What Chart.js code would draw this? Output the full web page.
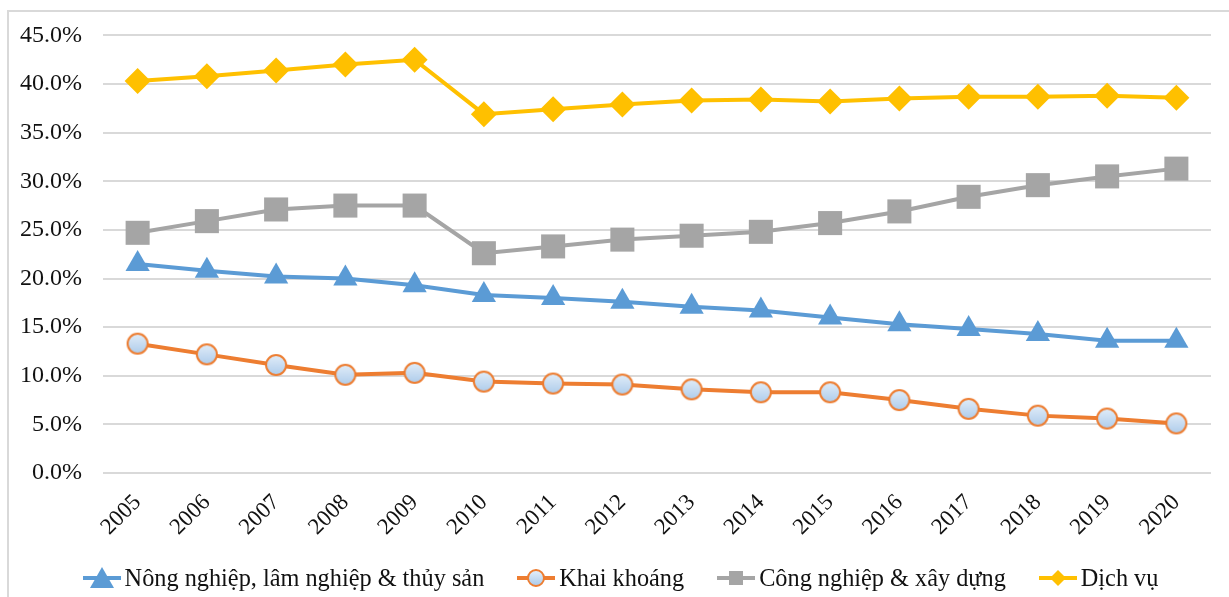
<!DOCTYPE html>
<html lang="vi">
<head>
<meta charset="utf-8">
<title>Cơ cấu kinh tế 2005–2020</title>
<script src="https://cdn.jsdelivr.net/npm/chart.js@4/dist/chart.umd.min.js"></script>
<style>
  html, body { margin: 0; padding: 0; background: #fff; overflow: hidden; }
  #wrap { position: relative; width: 1229px; height: 597px; }
  #frame { position: absolute; left: 7px; top: 10px; width: 1300px; height: 700px;
           border: 2px solid #d9d9d9; box-sizing: border-box; }
  #chart { position: absolute; left: 0; top: 0; }
  #legend { position: absolute; left: 6px; top: 562px; width: 1229px; height: 32px;
            display: flex; justify-content: center; align-items: center; gap: 33px;
            font-family: "Liberation Serif", "Times New Roman", serif; font-size: 24.3px; color: #111; }
  .item { display: flex; align-items: center; gap: 4px; white-space: nowrap; }
  .item svg { display: block; }
</style>
</head>
<body>
<div id="wrap">
  <div id="frame"></div>
  <canvas id="chart" width="1229" height="597"></canvas>
  <div id="legend"></div>
</div>
<script>
// Years on the horizontal axis
const years = ['2005','2006','2007','2008','2009','2010','2011','2012','2013','2014','2015','2016','2017','2018','2019','2020'];

// Share of GDP by sector (%)
const nongNghiep = [21.5, 20.8, 20.2, 20.0, 19.3, 18.3, 18.0, 17.6, 17.1, 16.7, 16.0, 15.3, 14.8, 14.3, 13.6, 13.6];
const khaiKhoang = [13.3, 12.2, 11.1, 10.1, 10.3, 9.4, 9.2, 9.1, 8.6, 8.3, 8.3, 7.5, 6.6, 5.9, 5.6, 5.1];
const congNghiep = [24.7, 25.9, 27.1, 27.5, 27.5, 22.6, 23.3, 24.0, 24.4, 24.8, 25.7, 26.9, 28.4, 29.6, 30.5, 31.3];
const dichVu     = [40.3, 40.8, 41.4, 42.0, 42.5, 36.9, 37.4, 37.9, 38.3, 38.4, 38.2, 38.5, 38.7, 38.7, 38.8, 38.6];

const seriesNames = ['Nông nghiệp, lâm nghiệp & thủy sản', 'Khai khoáng', 'Công nghiệp & xây dựng', 'Dịch vụ'];

const BLUE = '#5b9bd5', ORANGE = '#ed7d31', GREY = '#a5a5a5', GOLD = '#ffc000';
const FONT = '"Liberation Serif", "Times New Roman", serif';

// Light-blue shaded circle with an orange rim, used as the point style of the mining series
function makeCircleMarker(r, border) {
  const size = Math.ceil((r + border) * 2);
  const c = document.createElement('canvas');
  c.width = size; c.height = size;
  const g = c.getContext('2d');
  const grad = g.createLinearGradient(0, 0, 0, size);
  grad.addColorStop(0, '#e6f0fa');
  grad.addColorStop(1, '#a9c9ea');
  g.beginPath();
  g.arc(size / 2, size / 2, r, 0, Math.PI * 2);
  g.fillStyle = grad;
  g.fill();
  g.lineWidth = border;
  g.strokeStyle = ORANGE;
  g.stroke();
  return c;
}
const circleMarker = makeCircleMarker(10, 2);

const common = { borderWidth: 4, tension: 0, clip: false, pointBorderWidth: 0 };

new Chart(document.getElementById('chart'), {
  type: 'line',
  data: {
    labels: years,
    datasets: [
      { ...common, label: seriesNames[0], data: nongNghiep, borderColor: BLUE, backgroundColor: BLUE,
        pointStyle: 'triangle', pointRadius: 14, pointBackgroundColor: BLUE, pointBorderColor: BLUE },
      { ...common, label: seriesNames[1], data: khaiKhoang, borderColor: ORANGE, backgroundColor: ORANGE,
        pointStyle: circleMarker, pointRadius: 12 },
      { ...common, label: seriesNames[2], data: congNghiep, borderColor: GREY, backgroundColor: GREY,
        pointStyle: 'rect', pointRadius: 17, pointBackgroundColor: GREY, pointBorderColor: GREY },
      { ...common, label: seriesNames[3], data: dichVu, borderColor: GOLD, backgroundColor: GOLD,
        pointStyle: 'rectRot', pointRadius: 13, pointBackgroundColor: GOLD, pointBorderColor: GOLD }
    ]
  },
  options: {
    responsive: false,
    animation: false,
    events: [],
    layout: { padding: { top: 35, right: 18, bottom: 44, left: 0 } },
    plugins: { legend: { display: false }, tooltip: { enabled: false } },
    scales: {
      x: {
        offset: true,
        grid: { display: false, drawTicks: false },
        border: { display: false },
        ticks: { font: { family: FONT, size: 23 }, color: '#111', minRotation: 45, maxRotation: 45, padding: 16, autoSkip: false },
        afterFit(scale) { scale.height = 80; }
      },
      y: {
        min: 0, max: 45,
        grid: { color: '#d9d9d9', lineWidth: 2, drawTicks: false },
        border: { display: false },
        ticks: { stepSize: 5, padding: 21, font: { family: FONT, size: 24 }, color: '#111',
                 callback: v => v.toFixed(1) + '%' },
        afterFit(scale) { scale.width = 103; }
      }
    }
  }
});

// Legend: a short line with the series marker, followed by the series name
const legendMarkers = [
  '<polygon points="19,1 31,22 7,22" fill="' + BLUE + '"/>',
  '<defs><linearGradient id="cg" x1="0" y1="0" x2="0" y2="1"><stop offset="0" stop-color="#e6f0fa"/><stop offset="1" stop-color="#a9c9ea"/></linearGradient></defs>' +
    '<circle cx="19" cy="12" r="8" fill="url(#cg)" stroke="' + ORANGE + '" stroke-width="2"/>',
  '<rect x="12" y="5" width="14" height="14" fill="' + GREY + '"/>',
  '<polygon points="19,4 27,12 19,20 11,12" fill="' + GOLD + '"/>'
];
const legendColors = [BLUE, ORANGE, GREY, GOLD];
const legend = document.getElementById('legend');
seriesNames.forEach((name, i) => {
  const item = document.createElement('div');
  item.className = 'item';
  item.innerHTML = '<svg width="38" height="24" viewBox="0 0 38 24"><line x1="0" y1="12" x2="38" y2="12" stroke="' +
    legendColors[i] + '" stroke-width="4"/>' + legendMarkers[i] + '</svg>';
  const span = document.createElement('span');
  span.textContent = name;
  item.appendChild(span);
  legend.appendChild(item);
});
</script>
</body>
</html>
